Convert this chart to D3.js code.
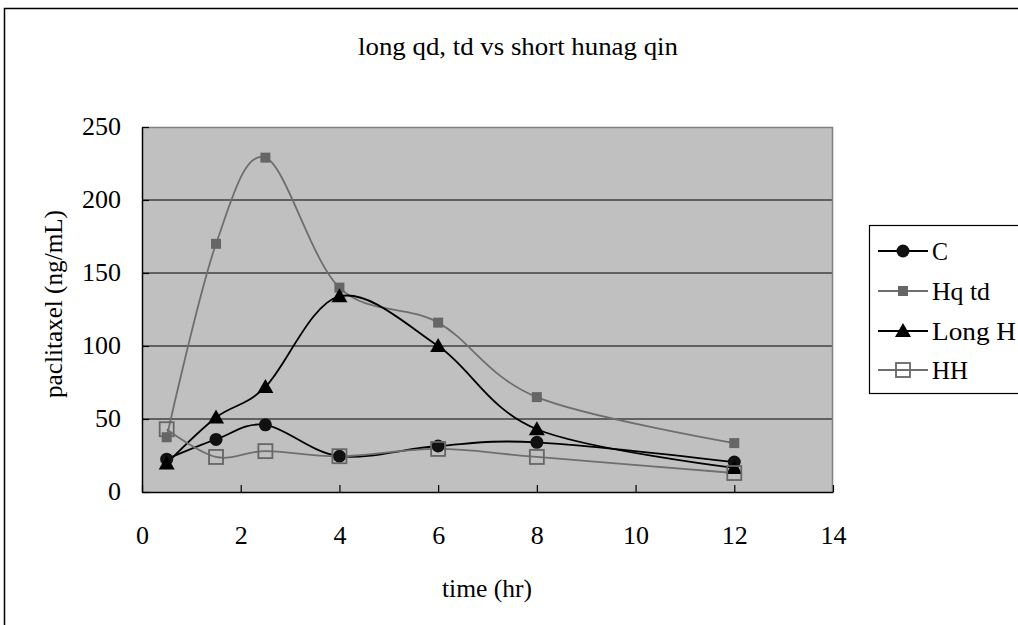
<!DOCTYPE html>
<html>
<head>
<meta charset="utf-8">
<script src="https://cdn.jsdelivr.net/npm/d3@7"></script>
<style>
  body { margin: 0; background: #fff; }
  svg text { font-family: "Liberation Serif", "DejaVu Serif", serif; fill: #000; }
</style>
</head>
<body>
<div id="chart"></div>
<script>
// data
var times = [0.5, 1.5, 2.5, 4, 6, 8, 12];
var seriesNames = ["C", "Hq td", "Long H", "HH"];
var cValues = [22.5, 36, 46, 24.5, 31.5, 34, 20.5];
var hqtdValues = [37.5, 170, 229, 140, 116, 65, 33.5];
var longHValues = [19.5, 51, 72, 134, 100, 43, 16.5];
var hhValues = [43, 24, 28, 24.5, 29.5, 24, 13];
var xTicks = [0, 2, 4, 6, 8, 10, 12, 14];
var yTicks = [0, 50, 100, 150, 200, 250];

var svgWidth = 1018, svgHeight = 625;
var margin = { top: 127, left: 142, right: 185, bottom: 133 };
var width = svgWidth - margin.left - margin.right;   // 691
var height = svgHeight - margin.top - margin.bottom; // 365

var svg = d3.select("#chart").append("svg")
    .attr("width", svgWidth)
    .attr("height", svgHeight);

// outer chart frame
svg.append("rect")
    .attr("x", 4.5).attr("y", 8.5)
    .attr("width", 1030).attr("height", 640)
    .attr("fill", "#fff").attr("stroke", "#000").attr("stroke-width", 1.5);

svg.append("text")
    .attr("x", 518).attr("y", 55)
    .attr("text-anchor", "middle")
    .attr("font-size", "26px")
    .attr("textLength", 320)
    .attr("lengthAdjust", "spacingAndGlyphs")
    .text("long qd, td vs short hunag qin");

var chartGroup = svg.append("g")
    .attr("transform", `translate(${margin.left}, ${margin.top})`);

var xScale = d3.scaleLinear().domain([0, 14]).range([0, width]);
var yScale = d3.scaleLinear().domain([0, 250]).range([height, 0]);

// plot area
chartGroup.append("rect")
    .attr("width", width).attr("height", height)
    .attr("fill", "#c0c0c0");

// grid lines
chartGroup.selectAll(".grid")
    .data(yTicks.filter(d => d > 0 && d < 250))
    .enter().append("line")
    .attr("x1", 0).attr("x2", width)
    .attr("y1", d => yScale(d)).attr("y2", d => yScale(d))
    .attr("stroke", "#000").attr("stroke-width", 1.2);

// top and right border
chartGroup.append("path")
    .attr("d", `M0,0.5H${width - 0.5}V${height}`)
    .attr("fill", "none").attr("stroke", "#808080").attr("stroke-width", 1.5);

// axes
var xAxis = d3.axisBottom(xScale).tickValues(xTicks).tickSizeInner(-7).tickSizeOuter(0).tickPadding(34);
var yAxis = d3.axisLeft(yScale).tickValues(yTicks).tickSizeInner(-7).tickSizeOuter(0).tickPadding(21);

var gx = chartGroup.append("g")
    .attr("transform", `translate(0, ${height})`)
    .call(xAxis);
var gy = chartGroup.append("g").call(yAxis);

[gx, gy].forEach(function (g) {
    g.select(".domain").attr("stroke", "#000").attr("stroke-width", 1.5);
    g.selectAll(".tick line").attr("stroke", "#000").attr("stroke-width", 1.2);
    g.selectAll(".tick text")
        .attr("font-family", "Liberation Serif, DejaVu Serif, serif")
        .attr("font-size", "26px").attr("fill", "#000");
});
gy.selectAll(".tick text").attr("dy", "0.3em");

// axis labels
svg.append("text")
    .attr("transform", "translate(62, 304) rotate(-90)")
    .attr("text-anchor", "middle")
    .attr("font-size", "25px")
    .attr("textLength", 188)
    .attr("lengthAdjust", "spacingAndGlyphs")
    .text("paclitaxel (ng/mL)");

svg.append("text")
    .attr("x", 487).attr("y", 597)
    .attr("text-anchor", "middle")
    .attr("font-size", "25px")
    .attr("textLength", 90)
    .attr("lengthAdjust", "spacingAndGlyphs")
    .text("time (hr)");

var series = [
    { name: seriesNames[0], values: cValues, color: "#000", width: 1.8, marker: "circle", labelWidth: 16 },
    { name: seriesNames[1], values: hqtdValues, color: "#6e6e6e", width: 1.8, marker: "square", labelWidth: 58 },
    { name: seriesNames[2], values: longHValues, color: "#000", width: 1.8, marker: "triangle", labelWidth: 84 },
    { name: seriesNames[3], values: hhValues, color: "#6e6e6e", width: 1.8, marker: "open", labelWidth: 36 }
];

var line = d3.line()
    .x((d, i) => xScale(times[i]))
    .y(d => yScale(d))
    .curve(d3.curveCatmullRom.alpha(0));

function drawMarker(g, type, x, y) {
    if (type === "circle") {
        g.append("circle").attr("cx", x).attr("cy", y).attr("r", 6.5).attr("fill", "#111");
    } else if (type === "square") {
        g.append("rect").attr("x", x - 5).attr("y", y - 5).attr("width", 10).attr("height", 10)
            .attr("fill", "#666");
    } else if (type === "triangle") {
        g.append("path").attr("d", `M${x},${y - 8}L${x + 8},${y + 6}L${x - 8},${y + 6}Z`)
            .attr("fill", "#000");
    } else {
        g.append("rect").attr("x", x - 7).attr("y", y - 7).attr("width", 14).attr("height", 14)
            .attr("fill", "none").attr("stroke", "#666").attr("stroke-width", 1.8);
    }
}

series.forEach(function (s) {
    chartGroup.append("path")
        .datum(s.values)
        .attr("d", line)
        .attr("fill", "none")
        .attr("stroke", s.color)
        .attr("stroke-width", s.width);
});

series.forEach(function (s) {
    var mg = chartGroup.append("g");
    s.values.forEach(function (v, i) {
        drawMarker(mg, s.marker, xScale(times[i]), yScale(v));
    });
});

// legend
var legend = svg.append("g");
legend.append("rect")
    .attr("x", 869.5).attr("y", 225.5)
    .attr("width", 200).attr("height", 168)
    .attr("fill", "#fff").attr("stroke", "#000").attr("stroke-width", 1.2);

var legendY = [251, 291, 331, 370];
series.forEach(function (s, i) {
    var y = legendY[i];
    legend.append("line")
        .attr("x1", 878).attr("x2", 928)
        .attr("y1", y).attr("y2", y)
        .attr("stroke", s.color).attr("stroke-width", 1.8);
    drawMarker(legend, s.marker, 903, y);
    legend.append("text")
        .attr("x", 932).attr("y", y + 9)
        .attr("font-size", "25px")
        .attr("textLength", s.labelWidth)
        .attr("lengthAdjust", "spacingAndGlyphs")
        .text(s.name);
});
</script>
</body>
</html>
